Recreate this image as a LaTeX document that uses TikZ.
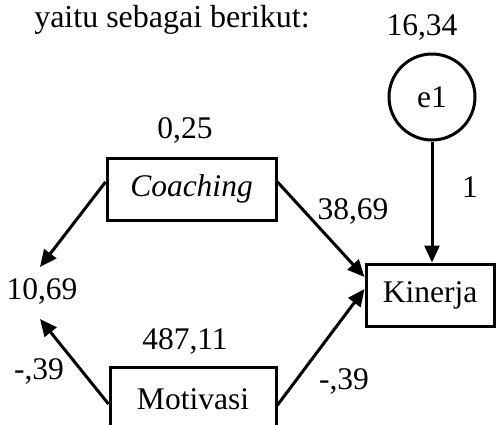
\documentclass[tikz,border=0pt]{standalone}
\usepackage{fontspec}
\setmainfont{Liberation Serif}
\usetikzlibrary{arrows.meta}
\begin{document}
\begin{tikzpicture}[x=1pt,y=-1pt,
  every node/.style={font=\fontsize{31.5}{36}\selectfont, inner sep=0pt},
  lbl/.style={anchor=base},
  varbox/.style={draw, line width=3pt, rectangle, inner sep=0pt},
  errc/.style={draw, line width=3pt, circle, minimum size=86pt},
  path/.style={line width=3pt, -{Triangle[length=17pt,width=15pt]}}]
\useasboundingbox (0,0) rectangle (496,424);
\node[lbl, font=\fontsize{32}{36}\selectfont] (title) at (172,27) {yaitu sebagai berikut:};
\node[lbl] (v1634) at (422,35) {16,34};
\node[errc] (e1) at (432,97) {e1};
\node[lbl] (v025) at (185,138) {0,25};
\node[varbox, minimum width=169pt, minimum height=62pt] (coach) at (191.5,189) {\itshape Coaching};
\node[lbl] (v1) at (470,197) {1};
\node[lbl] (v3869) at (353,219) {38,69};
\node[varbox, minimum width=128pt, minimum height=62pt] (kin) at (430,295) {Kinerja};
\node[lbl] (v1069) at (42,299) {10,69};
\node[lbl] (v48711) at (185,349) {487,11};
\node[lbl] (vm39a) at (39,379) {-,39};
\node[lbl] (vm39b) at (344,389) {-,39};
\node[varbox, minimum width=166pt, minimum height=70pt] (mot) at (193,402) {\raisebox{6pt}{Motivasi}};
\coordinate (t1) at (40,267);
\coordinate (t2) at (40,319);
\draw[path] ([yshift=7pt]coach.west) -- (t1);
\draw[path] ([yshift=7pt]coach.east) -- ([yshift=18pt]kin.west);
\draw[path] ([yshift=-2pt]mot.west) -- (t2);
\draw[path] ([yshift=-3pt]mot.east) -- ([yshift=6pt]kin.west);
\draw[path] (e1.south) -- (e1.south |- kin.north);
\end{tikzpicture}
\end{document}
